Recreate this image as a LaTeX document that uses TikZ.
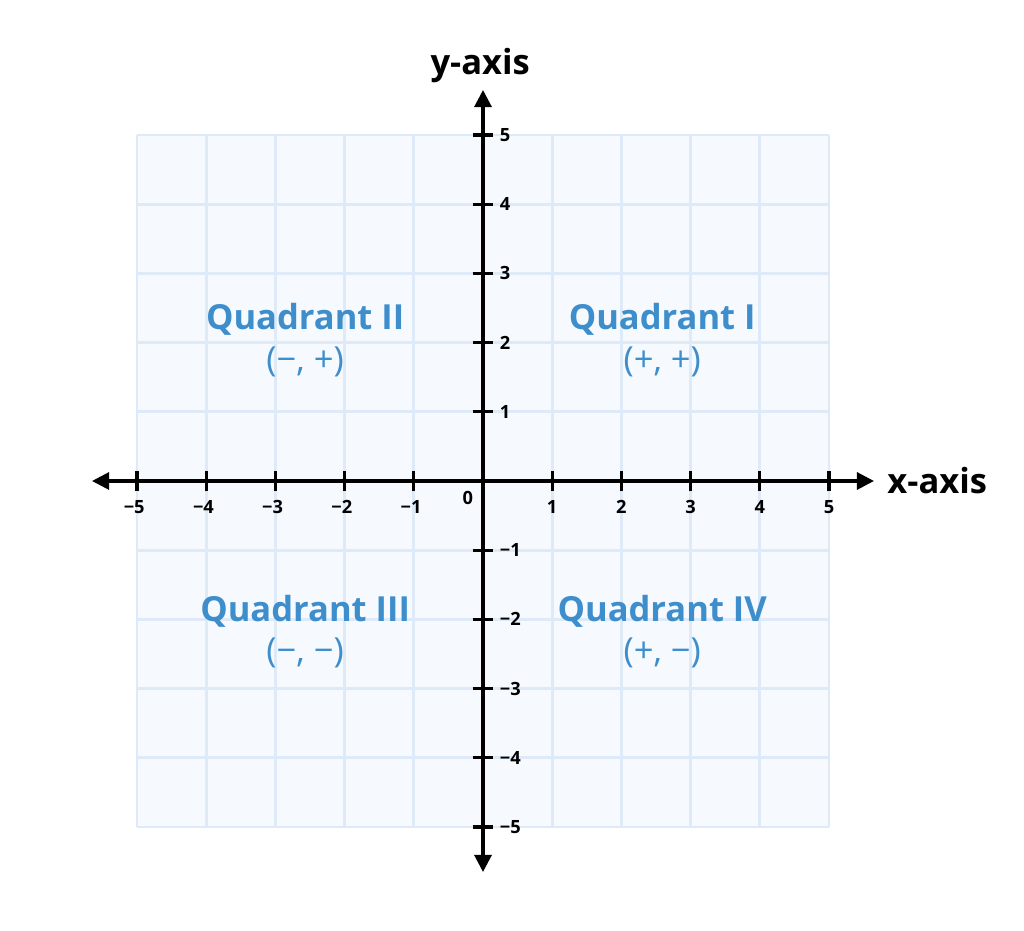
\documentclass[tikz,border=0pt]{standalone}
\usepackage{fontspec}
\setmainfont{Open Sans}
\usetikzlibrary{arrows.meta}
\definecolor{gridblue}{RGB}{222,234,248}
\definecolor{cellblue}{RGB}{246,250,254}
\definecolor{quadblue}{RGB}{62,142,204}
\tikzset{
	axis/.style = {line width = 1.25pt, {Triangle[length=7pt, width=7pt]}-{Triangle[length=7pt, width=7pt]}},
	tick/.style = {line width = 1.25pt},
	ticklabel/.style = {font = \bfseries\fontsize{7.5}{9}\selectfont},
	axislabel/.style = {font = \bfseries\fontsize{14.2}{17}\selectfont},
	quadname/.style = {text = quadblue, font = \bfseries\fontsize{14.2}{17}\selectfont},
	quadsign/.style = {text = quadblue, font = \fontsize{14.2}{17}\selectfont}
}
\begin{document}
\begin{tikzpicture}
	\useasboundingbox[fill = white] (-6.98, -6.503) rectangle (7.818, 6.951);
	%Grid
	\fill[cellblue] (-5, -5) rectangle (5, 5);
	\draw[gridblue, line width = 1.2pt] (-5, -5) grid (5, 5);
	%Axes
	\draw[axis] (-5.65, 0) -- (5.65, 0);
	\draw[axis] (0, -5.65) -- (0, 5.65);
		\node[axislabel, anchor = west] (xlab) at (5.72, 0) {x-axis};
		\node[axislabel] (ylab) at (-0.04, 6.0) {y-axis};
	\foreach \x in {1,...,5}
		\draw[tick] (\x, -0.15) -- (\x, 0.15);
	\foreach \x in {1,...,5}
		\draw[tick] (-\x, -0.15) -- (-\x, 0.15);
	\foreach \y in {1,...,5}
		\draw[tick] (-0.15, \y) -- (0.15, \y);
	\foreach \y in {1,...,5}
		\draw[tick] (-0.15, -\y) -- (0.15, -\y);
	\foreach \x in {1,...,5}
		\node[ticklabel] (xt\x) at (\x, -0.38) {\x};
	\foreach \x in {1,...,5}
		\node[ticklabel] (xn\x) at (-\x - 0.04, -0.38) {−\x};
	\foreach \y in {1,...,5}
		\node[ticklabel, anchor = west] (yt\y) at (0.12, \y) {\y};
	\foreach \y in {1,...,5}
		\node[ticklabel, anchor = west] (yn\y) at (0.12, -\y) {−\y};
	\node[ticklabel] (zero) at (-0.22, -0.25) {0};
	%Quadrants
		%I
		\node[quadname] (qone) at (2.59, 2.33) {Quadrant I};
		\node[quadsign] (sone) at (2.59, 1.72) {(+, +)};
		%II
		\node[quadname] (qtwo) at (-2.57, 2.33) {Quadrant II};
		\node[quadsign] (stwo) at (-2.57, 1.72) {(−, +)};
		%III
		\node[quadname] (qthree) at (-2.57, -1.88) {Quadrant III};
		\node[quadsign] (sthree) at (-2.57, -2.49) {(−, −)};
		%IV
		\node[quadname] (qfour) at (2.59, -1.88) {Quadrant IV};
		\node[quadsign] (sfour) at (2.59, -2.49) {(+, −)};
\end{tikzpicture}
\end{document}
